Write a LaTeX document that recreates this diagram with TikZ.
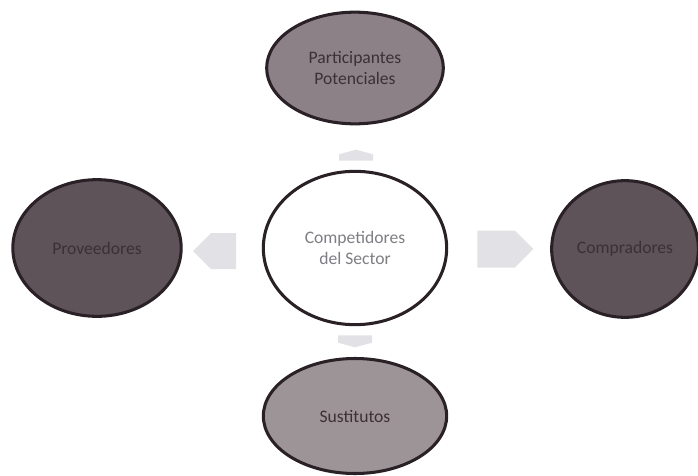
\documentclass[tikz,border=0pt]{standalone}
\usepackage{fontspec}
\setmainfont{Carlito}
\usetikzlibrary{shapes.geometric,shapes.arrows}
\definecolor{rim}{HTML}{2A2126}
\definecolor{topfill}{HTML}{8B8186}
\definecolor{sidefill}{HTML}{5E5358}
\definecolor{botfill}{HTML}{9D9498}
\definecolor{darktext}{HTML}{3A3035}
\definecolor{midtext}{HTML}{7E7E84}
\definecolor{arrowfill}{HTML}{E2E2E6}
\tikzset{
  force/.style={ellipse, draw=rim, line width=2.6pt, inner sep=0pt, align=center,
    font=\fontsize{15}{18}\selectfont, text=darktext},
  blockarrow/.style={single arrow, draw=none, fill=arrowfill, inner sep=0pt,
    single arrow head extend=0pt}
}
\begin{document}
\begin{tikzpicture}[x=0.03cm,y=-0.03cm]
\useasboundingbox (0,0) rectangle (698,476);
\node[force, fill=topfill, minimum width=5.3cm, minimum height=3.35cm] (pp) at (355,68) {Participantes\\Potenciales};
\node[force, fill=white, text=midtext, minimum width=5.5cm, minimum height=4.6cm] (cs) at (355,248) {Competidores\\del Sector};
\node[force, fill=sidefill, minimum width=5.05cm, minimum height=4.1cm] (pv) at (97,248) {Proveedores};
\node[force, fill=sidefill, minimum width=4.4cm, minimum height=4.1cm] (cp) at (625,249) {Compradores};
\node[force, fill=botfill, minimum width=5.5cm, minimum height=3.45cm] (su) at (355,416) {Sustitutos};
\node[blockarrow, shape border rotate=180, minimum height=43*0.03cm, minimum width=36*0.03cm,
  single arrow tip angle=90] (al) at (223.5,251) {};
\node[blockarrow, minimum height=56*0.03cm, minimum width=37*0.03cm,
  single arrow tip angle=90] (ar) at (496,249) {};
\node[blockarrow, shape border rotate=90, minimum height=11*0.03cm, minimum width=34*0.03cm,
  single arrow tip angle=150] (au) at (356,157.5) {};
\node[blockarrow, shape border rotate=270, minimum height=12*0.03cm, minimum width=34*0.03cm,
  single arrow tip angle=150] (ad) at (355,339) {};
\end{tikzpicture}
\end{document}
